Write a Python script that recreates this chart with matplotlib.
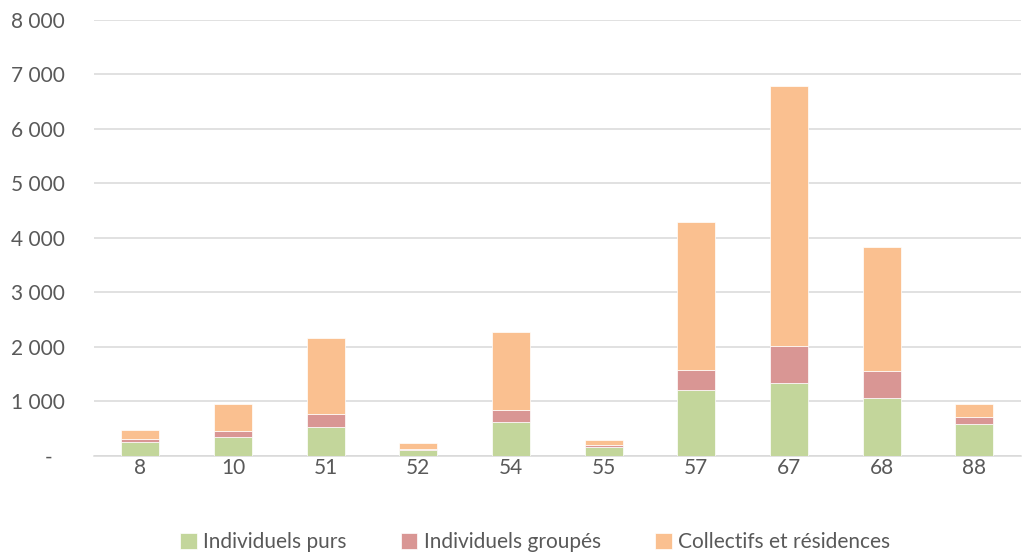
import matplotlib
matplotlib.use("Agg")
import matplotlib.pyplot as plt
import matplotlib.transforms as mtransforms
import numpy as np

# Logements par département
departements = ["8", "10", "51", "52", "54", "55", "57", "67", "68", "88"]
individuels_purs = [250, 345, 525, 110, 620, 170, 1210, 1330, 1065, 580]
individuels_groupes = [55, 110, 245, 25, 230, 30, 370, 690, 485, 135]
collectifs_residences = [165, 495, 1400, 100, 1415, 85, 2710, 4760, 2280, 245]
series_labels = ["Individuels purs", "Individuels groupés", "Collectifs et résidences"]
y_ticks = [0, 1000, 2000, 3000, 4000, 5000, 6000, 7000, 8000]

colors = ["#C3D69B", "#D99694", "#FAC090"]
text_color = "#595959"
grid_color = "#D9D9D9"

plt.rcParams["font.family"] = ["Lato", "DejaVu Sans"]

fig = plt.figure(figsize=(10.33, 5.52), dpi=100)
ax = fig.add_axes([0.091, 0.174, 0.897, 0.790])

x = np.arange(len(departements))
width = 0.41
bottom = np.zeros(len(departements))
for vals, lab, col in zip([individuels_purs, individuels_groupes, collectifs_residences],
                          series_labels, colors):
    ax.bar(x, vals, width, bottom=bottom, color=col, label=lab,
           edgecolor="white", linewidth=0.5, zorder=3)
    bottom += np.array(vals)

ax.set_xlim(-0.5, len(departements) - 0.5)
ax.set_ylim(0, 8000)
ax.set_yticks(y_ticks)
ax.set_yticklabels(["-" if v == 0 else f"{v:,}".replace(",", " ") for v in y_ticks])
ax.set_xticks(x)
ax.set_xticklabels(departements)

ax.grid(axis="y", color=grid_color, linewidth=1.1, zorder=0)
ax.set_axisbelow(True)
for side in ["top", "right", "left"]:
    ax.spines[side].set_visible(False)
ax.spines["bottom"].set_color(grid_color)
ax.spines["bottom"].set_linewidth(1.1)

ax.tick_params(axis="both", length=0, labelsize=15, colors=text_color)
ax.tick_params(axis="y", pad=21)
ax.tick_params(axis="x", pad=1.5)

# shift the zero dash leftwards like an accounting format
zero_lab = ax.get_yticklabels()[0]
zero_lab.set_transform(zero_lab.get_transform() +
                       mtransforms.ScaledTranslation(-12 / 100, 0, fig.dpi_scale_trans))

leg = fig.legend(loc="lower center", bbox_to_anchor=(0.518, -0.034), ncol=3,
                 frameon=False, fontsize=15, handlelength=0.8, handleheight=0.8,
                 handletextpad=0.3, columnspacing=2.6)
for t in leg.get_texts():
    t.set_color(text_color)

fig.savefig("out.png", dpi=100)
